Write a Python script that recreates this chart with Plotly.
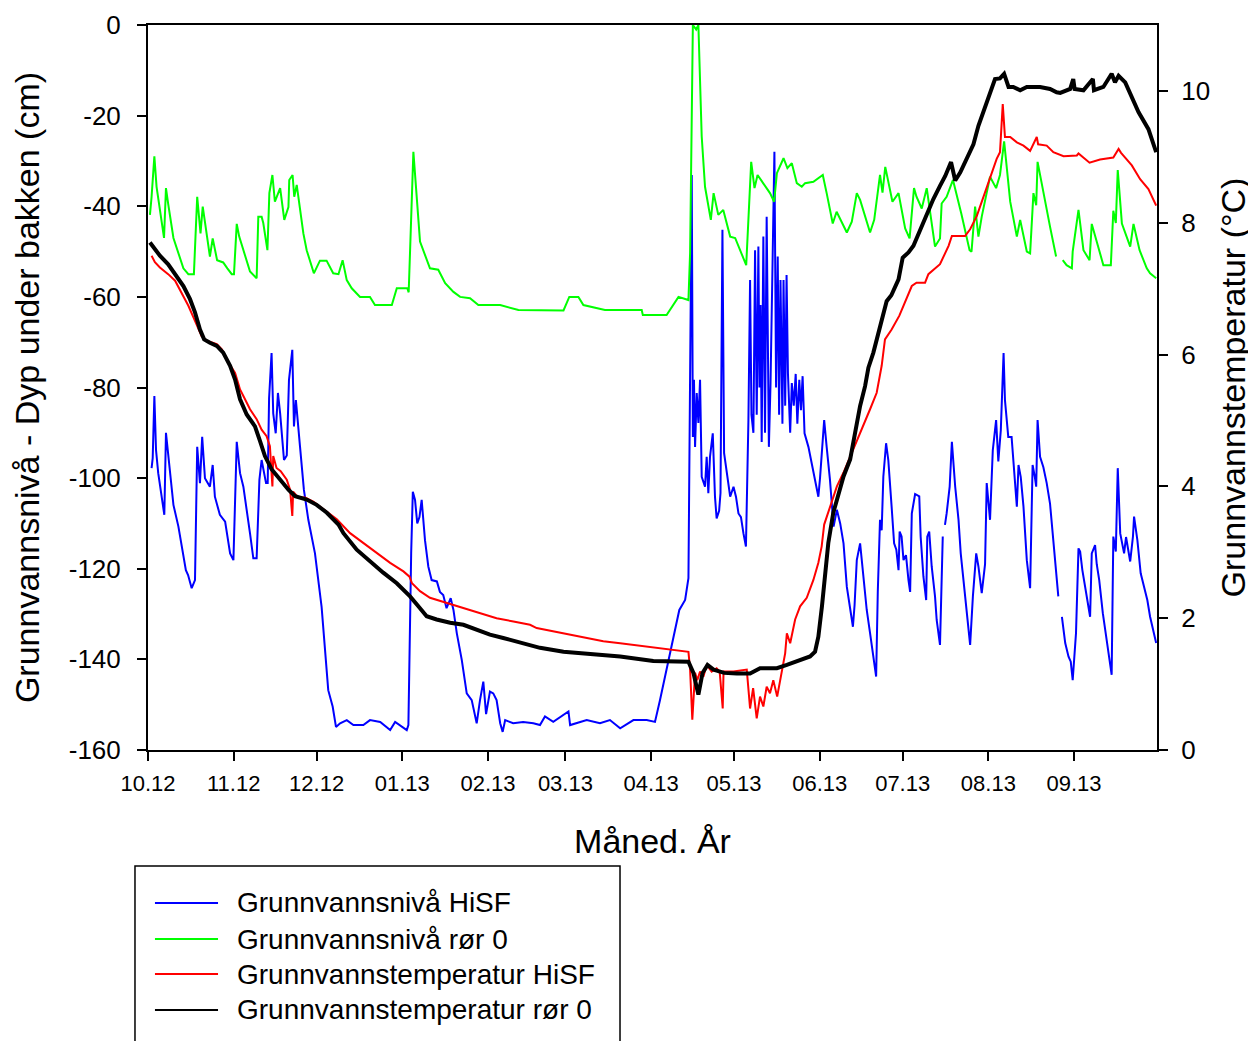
import pandas as pd
import plotly.graph_objects as go

START = pd.Timestamp("2012-10-01")

# ---- Grunnvannsnivå HiSF (cm, left axis) : day offset from 2012-10-01, value
hisf_lvl_day = [1.3, 1.7, 2.3, 2.9, 3.7, 5.0, 5.9, 6.5, 7.3, 8.2, 9.2, 11.0, 12.6, 13.7, 14.5, 15.8, 17.0, 17.8,
    18.8, 19.6, 20.6, 22.4, 23.4, 24.2, 26.0, 27.9, 29.7, 30.9, 32.1, 33.3, 34.5, 35.9, 36.9, 38.1, 39.3, 40.3,
    41.1, 42.7, 43.3, 43.8, 44.7, 45.3, 46.2, 47.0, 47.8, 49.2, 50.2, 51.0, 52.2, 52.8, 53.5, 55.0, 56.4, 58.0,
    60.4, 62.8, 64.0, 65.2, 66.8, 68.0, 69.5, 71.9, 74.3, 77.9, 80.3, 84.0, 87.6, 89.4, 93.6, 94.2, 95.2, 95.8,
    96.6, 97.4, 98.2, 99.0, 100.2, 101.4, 102.6, 104.5, 105.6, 106.8, 108.0, 109.5, 110.5, 111.7, 113.5, 115.3,
    117.1, 118.9, 120.1, 121.3, 122.3, 123.7, 124.9, 126.1, 127.4, 128.3, 129.2, 132.1, 135.7, 139.4, 141.8,
    143.6, 146.6, 152.1, 152.7, 158.7, 163.5, 167.1, 170.8, 175.6, 180.4, 183.4, 185.2, 187.6, 190.0, 192.2,
    194.3, 195.5, 196.7, 197.1, 197.5, 197.9, 198.5, 199.1, 199.7, 200.3, 201.5, 202.1, 202.7, 203.3, 204.3,
    205.1, 205.7, 206.6, 207.1, 207.8, 208.4, 209.3, 210.6, 211.8, 212.7, 213.6, 214.5, 215.4, 216.3, 217.2,
    217.8, 218.3, 219.0, 219.6, 220.2, 220.8, 221.2, 221.6, 222.0, 222.6, 223.2, 223.8, 224.2, 224.6, 225.2,
    226.6, 227.2, 227.8, 228.3, 228.8, 229.5, 229.9, 230.5, 231.0, 231.5, 232.3, 232.9, 233.6, 234.3, 234.9,
    235.6, 236.2, 236.8, 237.5, 238.9, 240.1, 241.3, 242.5, 243.1, 244.6, 245.5, 246.7, 248.0, 249.2, 250.4,
    251.6, 252.8, 254.0, 255.0, 255.6, 256.4, 257.6, 258.8, 260.0, 261.2, 262.4, 263.4, 264.0, 264.8, 265.4,
    266.0, 267.0, 267.8, 269.0, 269.9, 270.7, 271.5, 271.9, 272.6, 273.3, 274.2, 275.1, 275.7, 276.3, 276.9,
    277.5, 279.0, 279.5, 280.5, 281.5, 281.9, 282.6, 283.5, 284.7, 285.3, 286.5, 287.5, 287.9, 288.3, 288.9,
    290.0, 290.8, 292.0, 293.2, 294.0, 295.0, 296.2, 297.4, 298.4, 299.6, 300.4, 301.6, 302.8, 303.4, 304.6,
    305.6, 306.8, 307.6, 308.5, 309.2, 309.5, 310.0, 311.2, 312.4, 313.3, 314.3, 314.9, 315.7, 316.7, 317.3,
    317.9, 319.1, 320.0, 320.8, 321.3, 321.8, 322.7, 323.9, 325.1, 326.3, 327.5, 328.5, 329.3, 329.9, 330.6,
    331.8, 333.0, 333.8, 334.5, 335.7, 336.6, 337.2, 338.0, 339.4, 340.8, 341.4, 342.6, 343.2, 344.1, 345.4,
    346.6, 347.8, 348.6, 349.2, 350.1, 350.8, 351.7, 353.1, 353.8, 355.3, 356.3, 356.7, 357.9, 359.1, 360.7,
    361.5, 362.5, 363.7, 364.7]
hisf_lvl_val = [-97.8, -95.6, -81.9, -93.8, -98.9, -104.8, -108.1, -90.0, -94.5, -100.4, -105.9, -110.7, -116.6,
    -120.3, -121.4, -124.3, -122.5, -93.1, -101.1, -90.9, -100.0, -101.9, -97.1, -104.1, -108.1, -109.6, -116.6,
    -118.1, -92.0, -98.9, -101.9, -107.4, -112.2, -117.7, -117.7, -100.4, -96.0, -101.1, -101.1, -82.4, -72.4,
    -85.7, -90.1, -81.2, -85.7, -96.0, -95.0, -78.3, -71.7, -88.6, -82.8, -93.1, -102.6, -109.2, -116.6, -128.4,
    -137.2, -146.8, -150.4, -154.9, -154.1, -153.4, -154.5, -154.5, -153.4, -153.8, -155.6, -153.8, -155.6,
    -154.5, -116.6, -103.0, -104.8, -110.0, -108.6, -104.8, -113.7, -119.5, -122.5, -122.8, -125.1, -125.8,
    -128.7, -126.5, -129.1, -134.2, -140.1, -147.5, -149.0, -154.1, -149.0, -144.9, -152.1, -147.1, -147.5,
    -149.0, -154.1, -156.0, -153.4, -154.1, -153.8, -154.1, -154.5, -152.6, -153.8, -151.5, -154.5, -153.4,
    -154.1, -153.4, -155.2, -153.4, -153.4, -153.8, -149.0, -142.3, -135.0, -129.1, -126.9, -122.1, -33.1,
    -90.9, -78.3, -93.1, -81.2, -87.8, -78.3, -99.7, -101.9, -95.3, -103.3, -95.3, -90.1, -104.1, -108.9,
    -107.2, -103.3, -45.2, -94.5, -98.9, -104.1, -101.9, -104.1, -107.8, -108.6, -112.2, -115.1, -87.2, -56.3,
    -86.0, -90.0, -49.7, -86.0, -48.9, -80.0, -61.8, -92.0, -46.7, -90.0, -42.3, -62.9, -93.1, -79.0, -28.0,
    -80.0, -51.1, -86.0, -56.3, -88.0, -56.3, -84.0, -55.2, -76.9, -90.0, -79.0, -84.0, -77.0, -88.0, -78.3,
    -85.0, -77.5, -90.1, -93.1, -96.7, -99.7, -104.1, -100.0, -87.2, -93.1, -100.4, -110.7, -107.0, -110.0,
    -114.4, -124.0, -128.4, -132.8, -128.0, -118.1, -114.4, -122.5, -129.1, -134.2, -139.4, -143.8, -125.0,
    -109.2, -111.5, -99.7, -92.3, -96.0, -106.3, -114.4, -115.8, -120.3, -111.8, -112.9, -118.1, -117.0,
    -122.5, -125.1, -107.8, -105.2, -103.5, -104.0, -112.9, -121.7, -126.9, -112.9, -111.8, -119.5, -126.1,
    -131.3, -136.8, -112.9, None, -110.3, -107.8, -101.9, -92.0, -101.9, -109.2, -116.6, -122.5, -129.8,
    -136.8, -126.1, -116.6, -119.5, -125.4, -119.0, -101.1, -109.2, -93.8, -87.2, -96.3, -89.4, -78.3, -72.4,
    -82.8, -90.9, -90.9, -98.9, -106.3, -97.1, -99.7, -106.3, -111.4, -118.1, -124.3, -97.1, -99.7, -101.9,
    -87.2, -95.3, -97.6, -101.1, -105.6, -113.3, -120.3, -126.1, None, -130.6, -136.4, -139.4, -140.5, -144.6,
    -134.2, -115.5, -116.2, -120.3, -125.1, -130.6, -116.6, -114.8, -119.0, -122.5, -129.8, -135.0, -140.9,
    -143.4, -112.9, -116.2, -97.8, -112.2, -116.6, -113.0, -118.4, -112.9, -108.5, -113.7, -121.0, -124.7,
    -126.9, -130.6, -133.5, -136.4]

# ---- Grunnvannsnivå rør 0 (cm, left axis)
ror0_lvl_day = [0.7, 1.3, 2.3, 3.1, 5.8, 6.5, 7.3, 9.2, 12.8, 14.6, 16.6, 17.8, 19.0, 19.8, 22.4, 23.4, 25.0,
    27.2, 28.7, 30.3, 31.1, 32.1, 33.0, 35.1, 36.9, 39.3, 39.9, 41.1, 41.7, 43.2, 43.9, 45.0, 45.9, 47.8, 49.3,
    50.8, 51.1, 52.3, 52.9, 53.8, 56.2, 57.4, 60.0, 62.2, 64.6, 67.0, 68.9, 70.4, 71.9, 73.7, 76.7, 80.3, 82.1,
    88.2, 90.0, 93.8, 94.3, 96.0, 97.0, 98.4, 102.0, 105.0, 107.5, 110.5, 112.9, 116.5, 119.5, 127.4, 134.0,
    150.3, 152.4, 155.7, 157.5, 165.3, 178.6, 179.0, 187.6, 189.5, 191.9, 195.5, 196.1, 197.1, 198.3, 199.1,
    199.7, 200.3, 201.5, 203.6, 204.6, 206.3, 208.1, 210.6, 212.4, 216.4, 218.2, 219.4, 220.5, 222.6, 225.0,
    226.5, 227.5, 229.9, 231.3, 232.9, 234.7, 236.5, 237.7, 240.7, 244.1, 245.5, 247.7, 249.1, 250.9, 252.8,
    254.6, 256.4, 257.6, 261.2, 262.7, 264.8, 265.7, 266.7, 269.3, 271.5, 273.9, 275.5, 277.1, 278.0, 279.9,
    281.7, 284.7, 286.5, 287.1, 288.9, 291.2, 294.2, 297.2, 297.9, 299.2, 300.4, 301.6, 304.6, 306.8, 308.2,
    309.7, 311.9, 314.3, 315.5, 317.9, 319.1, 320.3, 321.3, 321.8, 325.1, 326.3, 328.5, 329.6, 330.9, 332.3,
    334.2, 334.5, 336.6, 338.4, 340.6, 341.4, 345.6, 348.3, 349.2, 350.1, 350.8, 352.3, 355.3, 356.5, 358.7,
    361.3, 362.5, 364.7]
ror0_lvl_val = [-41.9, -37.9, -29.0, -35.7, -47.0, -36.0, -39.5, -47.0, -53.7, -55.0, -55.0, -37.9, -46.0, -40.1,
    -51.1, -47.1, -51.9, -52.4, -53.7, -55.0, -55.0, -43.9, -46.7, -51.1, -54.4, -55.9, -42.3, -42.3, -43.7,
    -49.7, -37.1, -33.1, -39.0, -36.0, -43.0, -40.2, -34.2, -33.1, -37.9, -35.3, -46.0, -49.7, -54.8, -52.0,
    -52.0, -54.8, -55.0, -51.9, -56.3, -58.1, -60.0, -60.0, -61.8, -61.8, -58.1, -58.1, -59.0, -28.0, -37.1,
    -47.8, -53.7, -54.0, -57.0, -58.9, -60.0, -60.3, -61.8, -61.8, -62.9, -63.0, -60.0, -60.0, -61.8, -62.9,
    -62.9, -64.0, -64.0, -62.2, -60.0, -60.7, -50.3, 0.0, -1.0, 0.0, -15.0, -24.6, -35.7, -43.0, -37.1, -41.9,
    -40.8, -46.7, -47.0, -53.0, -30.2, -36.0, -33.1, -34.9, -37.1, -39.0, -32.7, -29.4, -31.6, -30.5, -34.9,
    -35.7, -34.9, -34.6, -33.1, -37.1, -43.8, -41.2, -43.4, -45.8, -43.4, -37.1, -38.6, -45.8, -43.0, -33.1,
    -37.0, -31.3, -39.0, -37.1, -44.9, -47.1, -36.0, -37.9, -40.5, -36.0, -48.9, -47.1, -39.4, -37.9, -34.2,
    -41.6, -49.7, -50.0, -40.1, -46.7, -42.3, -33.5, -36.0, -33.1, -25.7, -39.0, -46.7, -43.0, -50.0, -50.4,
    -37.1, -39.8, -30.2, -41.2, -44.5, -51.1, None, -51.9, -53.0, -53.7, -50.0, -40.8, -49.7, -51.9, -43.9,
    -53.0, -53.0, -41.0, -43.7, -32.0, -43.8, -48.9, -43.9, -49.7, -53.7, -54.8, -55.9]

# ---- Grunnvannstemperatur HiSF (°C, right axis)
hisf_temp_day = [1.3, 2.5, 4.3, 7.3, 9.8, 12.2, 14.6, 17.0, 19.4, 21.2, 24.9, 26.7, 29.1, 31.5, 33.3, 34.5, 36.9,
    39.3, 41.1, 42.9, 44.1, 45.0, 45.3, 46.5, 48.0, 50.2, 51.4, 52.2, 52.5, 54.4, 56.8, 59.8, 64.7, 68.3, 73.1,
    77.9, 82.7, 87.6, 92.4, 94.6, 95.5, 98.4, 102.0, 108.1, 114.1, 120.1, 126.1, 132.2, 138.2, 140.6, 146.6,
    152.7, 158.7, 164.7, 170.8, 176.8, 182.8, 188.9, 195.5, 196.1, 196.9, 197.9, 198.7, 199.7, 200.9, 202.1,
    203.9, 205.7, 206.8, 207.9, 208.2, 211.8, 216.6, 217.8, 218.9, 220.2, 221.4, 222.6, 223.8, 225.0, 226.2,
    227.6, 229.3, 230.5, 231.1, 232.3, 234.1, 235.9, 238.3, 240.7, 242.5, 243.7, 244.6, 246.7, 249.2, 251.6,
    255.2, 258.8, 261.2, 263.6, 265.4, 266.6, 269.0, 271.8, 273.3, 276.3, 278.0, 281.1, 282.3, 286.5, 289.6,
    290.8, 295.6, 297.4, 299.8, 302.8, 304.6, 307.0, 308.2, 309.2, 310.0, 311.9, 314.3, 316.7, 319.1, 321.5,
    322.0, 325.1, 327.5, 331.2, 336.0, 336.6, 340.6, 344.4, 349.2, 351.1, 352.0, 355.9, 358.9, 361.9, 364.7]
hisf_temp_val = [7.50, 7.40, 7.32, 7.22, 7.12, 6.94, 6.74, 6.51, 6.28, 6.21, 6.16, 6.08, 5.88, 5.72, 5.47, 5.37,
    5.17, 5.02, 4.86, 4.76, 4.61, 4.00, 4.46, 4.28, 4.23, 4.10, 3.95, 3.55, 3.92, 3.83, 3.83, 3.77, 3.62, 3.50,
    3.29, 3.14, 2.99, 2.84, 2.71, 2.63, 2.53, 2.41, 2.31, 2.23, 2.15, 2.08, 2.00, 1.95, 1.90, 1.85, 1.80, 1.75,
    1.70, 1.65, 1.62, 1.59, 1.55, 1.52, 1.49, 1.22, 0.46, 1.17, 1.06, 1.19, 1.11, 1.29, 1.19, 1.24, 1.19, 0.63,
    1.19, 1.19, 1.22, 0.63, 0.94, 0.48, 0.81, 0.66, 0.96, 0.86, 1.06, 0.81, 1.22, 1.47, 1.77, 1.62, 1.98, 2.18,
    2.31, 2.58, 2.84, 3.09, 3.42, 3.70, 4.00, 4.21, 4.56, 4.91, 5.17, 5.42, 5.83, 6.23, 6.38, 6.59, 6.74, 7.04,
    7.09, 7.09, 7.22, 7.37, 7.65, 7.80, 7.80, 7.90, 8.10, 8.46, 8.69, 8.97, 9.07, 9.80, 9.30, 9.30, 9.22, 9.17,
    9.09, 9.30, 9.19, 9.17, 9.07, 9.01, 9.02, 9.05, 8.91, 8.96, 8.99, 9.12, 9.06, 8.87, 8.66, 8.51, 8.26]

# ---- Grunnvannstemperatur rør 0 (°C, right axis)
ror0_temp_day = [0.7, 2.5, 4.3, 7.3, 10.4, 12.8, 15.2, 17.0, 18.8, 20.3, 22.4, 24.9, 27.2, 29.7, 31.5, 33.3, 35.7,
    38.7, 40.5, 42.3, 44.7, 47.8, 50.8, 53.2, 57.4, 61.0, 64.7, 68.9, 70.7, 75.5, 80.3, 85.1, 90.0, 94.8, 97.8,
    100.8, 104.4, 109.3, 114.1, 118.9, 123.7, 128.5, 133.4, 138.2, 141.8, 150.3, 158.7, 170.8, 182.8, 194.9,
    195.5, 197.3, 199.1, 200.6, 202.4, 204.6, 208.4, 213.0, 217.8, 221.4, 227.5, 231.1, 235.9, 239.5, 241.3,
    242.5, 243.8, 245.0, 246.1, 247.9, 249.8, 251.6, 254.0, 255.8, 257.6, 259.4, 260.6, 262.4, 264.2, 266.0,
    267.2, 268.9, 271.5, 273.0, 275.1, 276.9, 279.3, 281.7, 284.1, 286.5, 288.4, 290.5, 292.0, 293.8, 296.2,
    298.6, 300.4, 302.2, 304.6, 306.4, 308.2, 309.7, 311.3, 313.0, 315.5, 317.9, 322.7, 326.3, 328.7, 330.0,
    333.6, 334.7, 335.2, 338.4, 341.8, 342.2, 345.6, 348.6, 349.8, 351.1, 353.5, 355.9, 358.3, 361.9, 364.7]
ror0_temp_val = [7.70, 7.60, 7.50, 7.37, 7.19, 7.04, 6.84, 6.64, 6.38, 6.23, 6.18, 6.13, 6.03, 5.83, 5.62, 5.32,
    5.09, 4.91, 4.69, 4.46, 4.26, 4.10, 3.95, 3.85, 3.80, 3.72, 3.60, 3.42, 3.29, 3.04, 2.86, 2.69, 2.53, 2.33,
    2.18, 2.03, 1.98, 1.93, 1.90, 1.82, 1.75, 1.70, 1.65, 1.60, 1.55, 1.49, 1.46, 1.42, 1.35, 1.34, 1.34, 1.17,
    0.84, 1.17, 1.29, 1.22, 1.17, 1.16, 1.16, 1.24, 1.24, 1.29, 1.37, 1.42, 1.49, 1.72, 2.18, 2.69, 3.14, 3.60,
    3.90, 4.15, 4.41, 4.81, 5.22, 5.52, 5.80, 6.03, 6.33, 6.64, 6.81, 6.90, 7.14, 7.47, 7.55, 7.65, 7.90, 8.13,
    8.36, 8.56, 8.71, 8.92, 8.64, 8.76, 8.97, 9.19, 9.47, 9.68, 9.93, 10.18, 10.19, 10.26, 10.06, 10.06, 10.01,
    10.06, 10.06, 10.03, 9.98, 9.97, 10.03, 10.18, 10.03, 10.01, 10.18, 10.01, 10.06, 10.26, 10.13, 10.23,
    10.13, 9.90, 9.68, 9.42, 9.07]

# ---- axis ticks
month_ticks = ["2012-10-01", "2012-11-01", "2012-12-01", "2013-01-01", "2013-02-01", "2013-03-01",
               "2013-04-01", "2013-05-01", "2013-06-01", "2013-07-01", "2013-08-01", "2013-09-01"]
month_labels = ["10.12", "11.12", "12.12", "01.13", "02.13", "03.13", "04.13", "05.13", "06.13", "07.13",
                "08.13", "09.13"]
level_ticks = [0, -20, -40, -60, -80, -100, -120, -140, -160]
level_labels = ["0", "-20", "-40", "-60", "-80", "-100", "-120", "-140", "-160"]
temp_ticks = [0, 2, 4, 6, 8, 10]

series_names = ["Grunnvannsnivå HiSF", "Grunnvannsnivå rør 0",
                "Grunnvannstemperatur HiSF", "Grunnvannstemperatur rør 0"]
series_colors = ["#0000FF", "#00FF00", "#FF0000", "#000000"]


def to_dates(days):
    return [START + pd.Timedelta(days=d) for d in days]


FONT = "Arial, 'Liberation Sans', sans-serif"

fig = go.Figure()
fig.add_trace(go.Scatter(x=to_dates(hisf_lvl_day), y=hisf_lvl_val, mode="lines", name=series_names[0],
                         line=dict(color=series_colors[0], width=2), connectgaps=False))
fig.add_trace(go.Scatter(x=to_dates(ror0_lvl_day), y=ror0_lvl_val, mode="lines", name=series_names[1],
                         line=dict(color=series_colors[1], width=2), connectgaps=False))
fig.add_trace(go.Scatter(x=to_dates(hisf_temp_day), y=hisf_temp_val, mode="lines", name=series_names[2],
                         line=dict(color=series_colors[2], width=2), yaxis="y2"))
fig.add_trace(go.Scatter(x=to_dates(ror0_temp_day), y=ror0_temp_val, mode="lines", name=series_names[3],
                         line=dict(color=series_colors[3], width=4), yaxis="y2"))

axis_common = dict(showgrid=False, zeroline=False, showline=True, linecolor="black", linewidth=2,
                   ticks="outside", ticklen=9, tickwidth=2, tickcolor="black")

# ---- legend drawn inside a framed box below the plot (paper coordinates)
legend_rows_y = [-0.211, -0.2607, -0.309, -0.3586]
shapes = [dict(type="rect", xref="paper", yref="paper", x0=-0.0129, x1=0.4678, y0=-0.50, y1=-0.16,
               line=dict(color="black", width=1.5), fillcolor="rgba(0,0,0,0)", layer="above")]
annotations = []
for name, color, yy, w in zip(series_names, series_colors, legend_rows_y, [2, 2, 2, 2]):
    shapes.append(dict(type="line", xref="paper", yref="paper", x0=0.0069, x1=0.0694, y0=yy, y1=yy,
                       line=dict(color=color, width=w)))
    annotations.append(dict(xref="paper", yref="paper", x=0.0862, y=yy, text=name, showarrow=False,
                            xanchor="left", yanchor="middle", font=dict(size=28, family=FONT, color="black")))

fig.update_layout(
    width=1248, height=1033,
    margin=dict(l=140, r=99, t=17, b=291, autoexpand=False),
    paper_bgcolor="white", plot_bgcolor="white",
    font=dict(family=FONT, color="black"),
    showlegend=False,
    xaxis=dict(**axis_common, type="date", range=["2012-10-01", "2013-10-01"], mirror=True,
               tickvals=month_ticks, ticktext=month_labels, tickfont=dict(size=22), ticklabelstandoff=4,
               title=dict(text="Måned. År", font=dict(size=34), standoff=34)),
    yaxis=dict(**axis_common, range=[-160, 0], tickvals=level_ticks, ticktext=level_labels,
               tickfont=dict(size=26), ticklabelstandoff=11,
               title=dict(text="Grunnvannsnivå - Dyp under bakken (cm)", font=dict(size=34), standoff=19)),
    yaxis2=dict(**axis_common, range=[0, 11], overlaying="y", side="right", tickvals=temp_ticks,
                tickfont=dict(size=26), ticklabelstandoff=8,
                title=dict(text="Grunnvannstemperatur (°C)", font=dict(size=34), standoff=12)),
    shapes=shapes,
    annotations=annotations,
)

fig.write_html("out.html")
